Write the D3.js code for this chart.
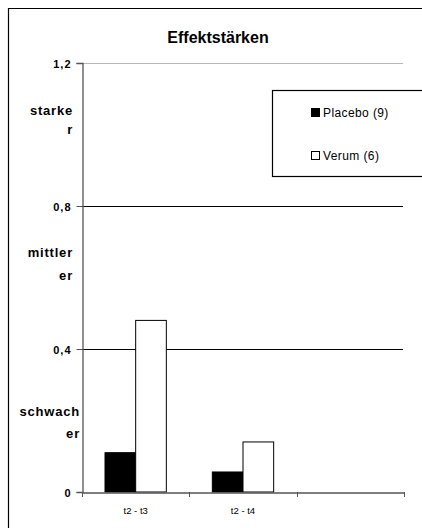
<!DOCTYPE html>
<html><head><meta charset="utf-8">
<script src="https://cdn.jsdelivr.net/npm/d3@7"></script>
<style>html,body{margin:0;padding:0;background:#fff;overflow:hidden;}svg{display:block;}</style>
</head><body>
<script>
const categories = ["t2 - t3", "t2 - t4", ""];
const seriesNames = ["Placebo (9)", "Verum (6)"];
const placeboValues = [0.11, 0.056];
const verumValues = [0.48, 0.14];
const yTicks = [0, 0.4, 0.8, 1.2];
const strengthLines = [["starke", "r"], ["mittler", "er"], ["schwach", "er"]];
const title = "Effektstärken";

const W = 422, H = 528;
const svg = d3.select("body").append("svg").attr("width", W).attr("height", H);
const font = "Liberation Sans, Arial, sans-serif";

// outer frame (cropped on right/bottom): only top and left edges visible
svg.append("path").attr("d", "M8.5,540V8.5H440")
  .attr("fill", "none").attr("stroke", "#000").attr("stroke-width", 1.2);

const x0 = d3.scaleBand().domain(categories).range([82, 404]).paddingInner(0).paddingOuter(0);
const x1 = d3.scaleBand().domain(seriesNames).range([0, x0.bandwidth()]).paddingInner(0).paddingOuter(0.75);
const y = d3.scaleLinear().domain([0, 1.2]).range([492, 63]);

// title
svg.append("text").attr("x", 218).attr("y", 43).attr("text-anchor", "middle")
  .attr("font-family", font).attr("font-weight", "bold").attr("font-size", 16).text(title);

// gridlines
svg.append("g").selectAll("line").data(yTicks.filter(d => d > 0)).join("line")
  .attr("x1", 82).attr("x2", 403)
  .attr("y1", d => Math.round(y(d)) + 0.5).attr("y2", d => Math.round(y(d)) + 0.5)
  .attr("stroke", d => d === 1.2 ? "#b8b8b8" : "#000").attr("stroke-width", 1.2);

// bars
const data = categories.map((c, i) => ({c, vals: [placeboValues[i], verumValues[i]]}));
const g = svg.append("g");
data.forEach(d => {
  d.vals.forEach((v, j) => {
    if (v == null) return;
    g.append("rect")
      .attr("x", x0(d.c) + x1(seriesNames[j]))
      .attr("y", y(v))
      .attr("width", x1.bandwidth())
      .attr("height", y(0) - y(v))
      .attr("fill", j === 0 ? "#000" : "#fff")
      .attr("stroke", "#000").attr("stroke-width", 1);
  });
});

// y axis
const yAxis = d3.axisLeft(y).tickValues(yTicks).tickSize(6).tickPadding(5)
  .tickFormat(d => d === 0 ? "0" : d3.format(".1f")(d).replace(".", ","));
const ya = svg.append("g").attr("transform", "translate(82.5,0)").call(yAxis);
ya.select(".domain").attr("stroke", "#555").attr("stroke-width", 1.3);
ya.selectAll(".tick line").attr("stroke", "#555");
ya.selectAll(".tick text").attr("font-family", font).attr("font-weight", "bold")
  .attr("font-size", 11).attr("letter-spacing", 1).attr("dy", "0.38em").attr("fill", "#000");

// x axis
const xAxis = d3.axisBottom(x0).tickSize(0).tickPadding(15);
const xa = svg.append("g").attr("transform", "translate(0,492.5)").call(xAxis);
xa.select(".domain").attr("stroke", "#555").attr("stroke-width", 1.3);
xa.selectAll(".tick text").attr("font-family", font).attr("font-size", 9.5).attr("fill", "#000");
// boundary ticks
const bounds = categories.map(c => x0(c) + x0.bandwidth()).concat([x0(categories[0])]);
svg.append("g").selectAll("line").data(bounds).join("line")
  .attr("x1", d => Math.round(d) + 0.5).attr("x2", d => Math.round(d) + 0.5)
  .attr("y1", 492).attr("y2", 497).attr("stroke", "#555");

// strength labels (layout kept separate from text)
const strengthLayout = [
  {x: 73, y: [115, 134]},
  {x: 73, y: [257, 280]},
  {x: 80, y: [416, 438]}
];
strengthLines.forEach((lines, i) => {
  const t = svg.append("text").attr("text-anchor", "end").attr("font-family", font)
    .attr("font-weight", "bold").attr("font-size", 13).attr("letter-spacing", 0.8).attr("fill", "#000");
  lines.forEach((ln, k) => {
    t.append("tspan").attr("x", strengthLayout[i].x).attr("y", strengthLayout[i].y[k]).text(ln);
  });
});

// legend
svg.append("rect").attr("x", 272.5).attr("y", 90.5).attr("width", 200).attr("height", 86)
  .attr("fill", "#fff").attr("stroke", "#000").attr("stroke-width", 1.2);
seriesNames.forEach((n, j) => {
  const ly = 117 + j * 43;
  svg.append("rect").attr("x", 311.5).attr("y", ly - 8.5).attr("width", 8).attr("height", 8)
    .attr("fill", j === 0 ? "#000" : "#fff").attr("stroke", "#000").attr("stroke-width", 1);
  svg.append("text").attr("x", 323).attr("y", ly).attr("font-family", font)
    .attr("font-size", 12).attr("letter-spacing", 0.4).attr("fill", "#000").text(n);
});
</script>
</body></html>
